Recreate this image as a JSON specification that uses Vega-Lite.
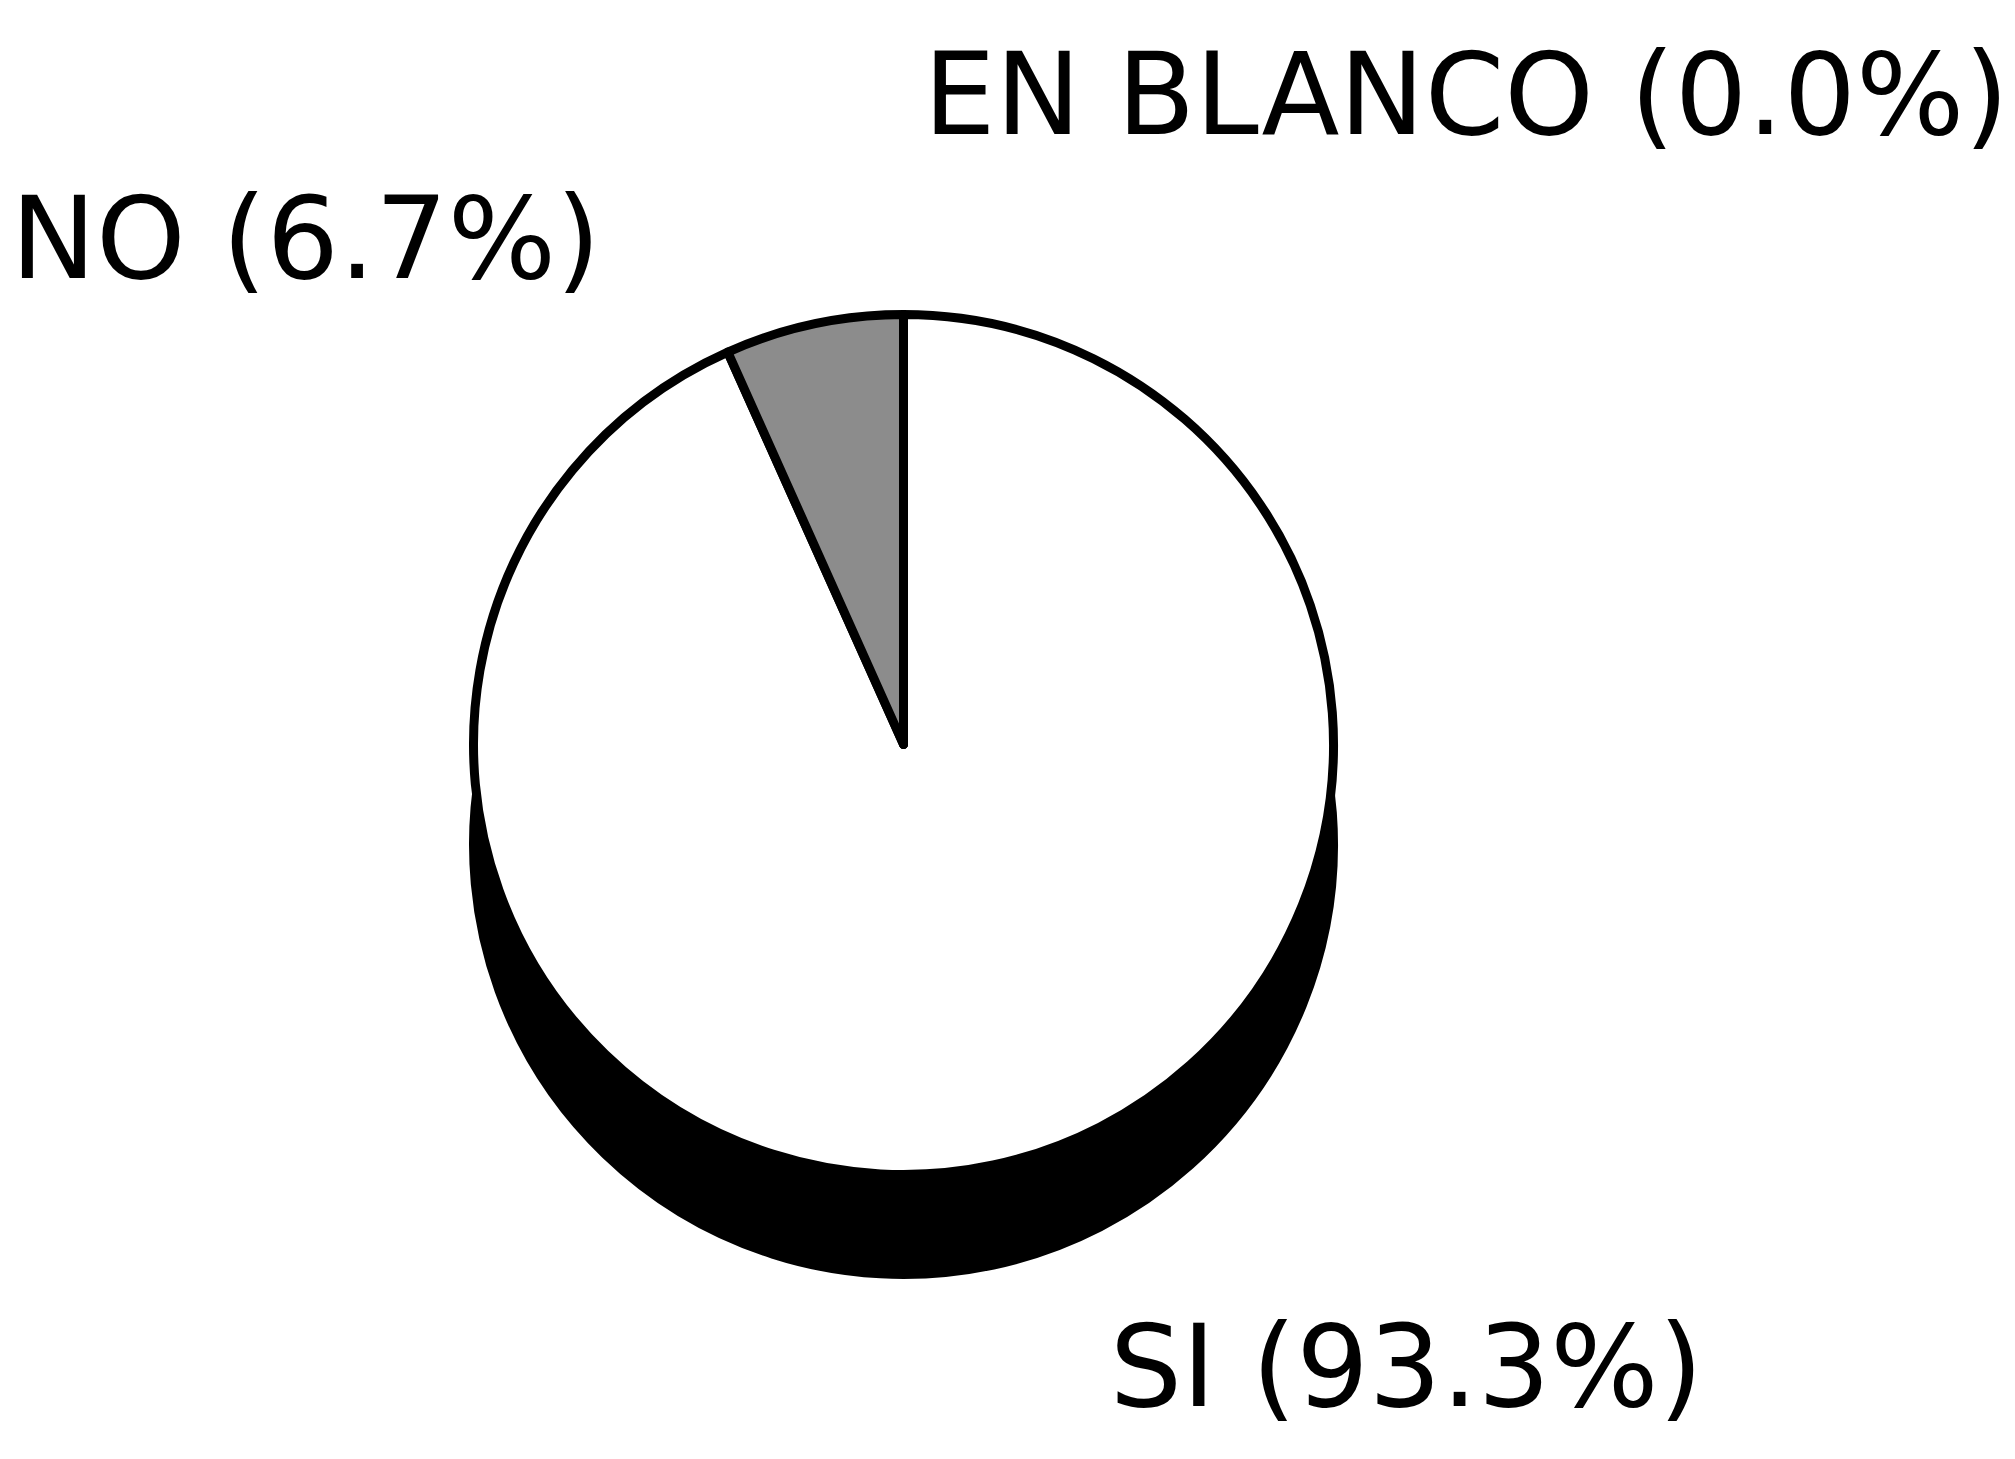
{
  "$schema": "https://vega.github.io/schema/vega-lite/v6.json",
  "autosize": {"type": "fit", "contains": "padding"},
  "width": 2015,
  "height": 1459,
  "padding": {"left": 0, "top": 30, "right": 110, "bottom": 0},
  "background": "#ffffff",
  "config": {"view": {"stroke": null}},
  "data": {
    "values": [
      {"respuesta": "SI", "porcentaje": 93.3, "orden": 1, "etiqueta": "SI (93.3%)"},
      {"respuesta": "NO", "porcentaje": 6.7, "orden": 2, "etiqueta": "NO (6.7%)"},
      {"respuesta": "EN BLANCO", "porcentaje": 0.0, "orden": 3, "etiqueta": "EN BLANCO (0.0%)"}
    ]
  },
  "encoding": {
    "theta": {"field": "porcentaje", "type": "quantitative", "stack": true},
    "order": {"field": "orden", "type": "quantitative"}
  },
  "layer": [
    {
      "mark": {"type": "arc", "outerRadius": 430, "yOffset": 100, "fill": "#000000", "stroke": "#000000", "strokeWidth": 9}
    },
    {
      "mark": {"type": "arc", "outerRadius": 430, "stroke": "#000000", "strokeWidth": 9, "strokeJoin": "round"},
      "encoding": {
        "color": {
          "field": "respuesta",
          "type": "nominal",
          "scale": {"domain": ["SI", "NO", "EN BLANCO"], "range": ["#ffffff", "#8c8c8c", "#ffffff"]},
          "legend": null
        }
      }
    },
    {
      "mark": {"type": "text", "radius": 642, "align": "left", "baseline": "middle", "dx": 72, "font": "DejaVu Sans", "fontSize": 114, "color": "#000000"},
      "encoding": {
        "text": {"condition": {"test": "datum.respuesta === 'SI'", "field": "etiqueta"}, "value": ""}
      }
    },
    {
      "mark": {"type": "text", "radius": 512, "align": "right", "baseline": "middle", "dx": -196, "font": "DejaVu Sans", "fontSize": 114, "color": "#000000"},
      "encoding": {
        "text": {"condition": {"test": "datum.respuesta === 'NO'", "field": "etiqueta"}, "value": ""}
      }
    },
    {
      "mark": {"type": "text", "radius": 645, "align": "left", "baseline": "middle", "dx": 20, "font": "DejaVu Sans", "fontSize": 114, "color": "#000000"},
      "encoding": {
        "text": {"condition": {"test": "datum.respuesta === 'EN BLANCO'", "field": "etiqueta"}, "value": ""}
      }
    }
  ]
}
